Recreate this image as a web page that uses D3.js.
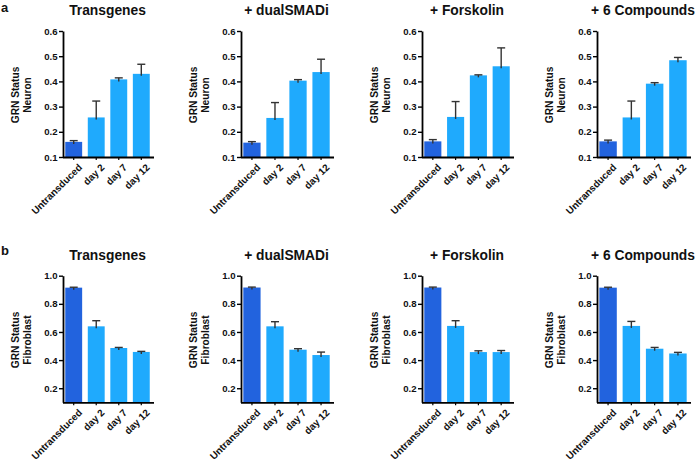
<!DOCTYPE html>
<html><head><meta charset="utf-8">
<script src="https://cdn.jsdelivr.net/npm/d3@7"></script>
<style>
body{margin:0;background:#fff;}
text{font-family:"Liberation Sans",Arial,Helvetica,sans-serif;font-weight:bold;fill:#111;}
</style></head>
<body><svg id="c" width="700" height="461"></svg>
<script>
const categories = ["Untransduced","day 2","day 7","day 12"];
const conditions = ["Transgenes","+ dualSMADi","+ Forskolin","+ 6 Compounds"];
const neuronMeans = [
  [0.160,0.257,0.408,0.430],
  [0.157,0.255,0.403,0.437],
  [0.162,0.259,0.424,0.460],
  [0.162,0.257,0.391,0.484]
];
const neuronErr = [
  [0.005,0.065,0.006,0.038],
  [0.004,0.061,0.004,0.051],
  [0.007,0.061,0.002,0.073],
  [0.005,0.065,0.004,0.011]
];
const fibroMeans = [
  [0.915,0.640,0.486,0.458],
  [0.916,0.640,0.474,0.436],
  [0.916,0.643,0.457,0.457],
  [0.915,0.643,0.481,0.447]
];
const fibroErr = [
  [0.003,0.040,0.004,0.004],
  [0.003,0.033,0.007,0.021],
  [0.003,0.037,0.009,0.011],
  [0.003,0.032,0.009,0.008]
];
const neuronTicks = [0.1,0.2,0.3,0.4,0.5,0.6];
const fibroTicks = [0.2,0.4,0.6,0.8,1.0];

const svg = d3.select("#c");
const panelX = [63, 241, 422, 597];
const panelW = [89, 91, 90, 92];
const rows = [
  {label:"a", labelY:12, titleY:15, top:31, bottom:157, domain:[0.1,0.6], ticks:neuronTicks, means:neuronMeans, errs:neuronErr, ylab:["GRN Status","Neuron"]},
  {label:"b", labelY:255, titleY:260, top:275.7, bottom:402.3, domain:[0.1,1.0], ticks:fibroTicks, means:fibroMeans, errs:fibroErr, ylab:["GRN Status","Fibroblast"]}
];
const darkBlue = "#2263DE", lightBlue = "#1FAAFD";

rows.forEach(r => {
  svg.append("text").attr("x", 1).attr("y", r.labelY).style("font-size","13px").text(r.label);
  conditions.forEach((cond, ci) => {
    const x0 = panelX[ci], w = panelW[ci];
    const g = svg.append("g");
    const x = d3.scaleBand().domain(categories).range([x0, x0 + w]).paddingInner(0.25).paddingOuter(0.1);
    const y = d3.scaleLinear().domain(r.domain).range([r.bottom, r.top]);
    const data = categories.map((c, i) => ({c, v:r.means[ci][i], e:r.errs[ci][i]}));
    g.selectAll("rect").data(data).join("rect")
      .attr("x", d => x(d.c)).attr("width", x.bandwidth())
      .attr("y", d => y(d.v)).attr("height", d => y(r.domain[0]) - y(d.v))
      .attr("fill", (d,i) => i === 0 ? darkBlue : lightBlue);
    const eg = g.selectAll("g.err").data(data).join("g").attr("class","err");
    eg.append("line")
      .attr("x1", d => x(d.c) + x.bandwidth()/2).attr("x2", d => x(d.c) + x.bandwidth()/2)
      .attr("y1", d => y(d.v) + 2).attr("y2", d => y(d.v + d.e))
      .attr("stroke", "#333").attr("stroke-width", 1.4);
    eg.append("line")
      .attr("x1", d => x(d.c) + x.bandwidth()/2 - 4).attr("x2", d => x(d.c) + x.bandwidth()/2 + 4)
      .attr("y1", d => y(d.v + d.e)).attr("y2", d => y(d.v + d.e))
      .attr("stroke", "#333").attr("stroke-width", 1.4);
    const ya = g.append("g").attr("transform", `translate(${x0},0)`)
      .call(d3.axisLeft(y).tickValues(r.ticks).tickFormat(d3.format(".1f")).tickSize(4).tickPadding(1.5).tickSizeOuter(0));
    ya.select(".domain").attr("stroke","#000").attr("stroke-width",1.8);
    ya.selectAll(".tick line").attr("stroke","#000").attr("stroke-width",1.4);
    ya.selectAll(".tick text").style("font-size","9.6px").style("font-family","'Liberation Sans',Arial,sans-serif").style("font-weight","bold").attr("fill","#111");
    const xa = g.append("g").attr("transform", `translate(0,${r.bottom})`)
      .call(d3.axisBottom(x).tickSize(3).tickSizeOuter(0).tickPadding(2));
    xa.select(".domain").attr("stroke","#000").attr("stroke-width",1.8).attr("d", `M${x0},0.5H${x0 + w + 2}`);
    xa.selectAll(".tick line").attr("stroke","#000").attr("stroke-width",1.2);
    xa.selectAll(".tick text")
      .style("font-size","9.9px").style("font-family","'Liberation Sans',Arial,sans-serif").style("font-weight","bold").attr("fill","#111")
      .attr("text-anchor","end")
      .attr("dy", "0.35em")
      .attr("transform","translate(3,5) rotate(-45)");
    g.append("text").attr("x", x0 + w/2).attr("y", r.titleY).attr("text-anchor","middle")
      .style("font-size","13.8px").text(cond);
    const cy = (r.top + r.bottom) / 2 + 1;
    const yl = g.append("text").attr("transform", `translate(${x0 - 44},${cy}) rotate(-90)`)
      .attr("text-anchor","middle").style("font-size","10.2px");
    yl.append("tspan").attr("x",0).attr("y",0).text(r.ylab[0]);
    yl.append("tspan").attr("x",0).attr("y",11.5).text(r.ylab[1]);
  });
});
</script></body></html>
